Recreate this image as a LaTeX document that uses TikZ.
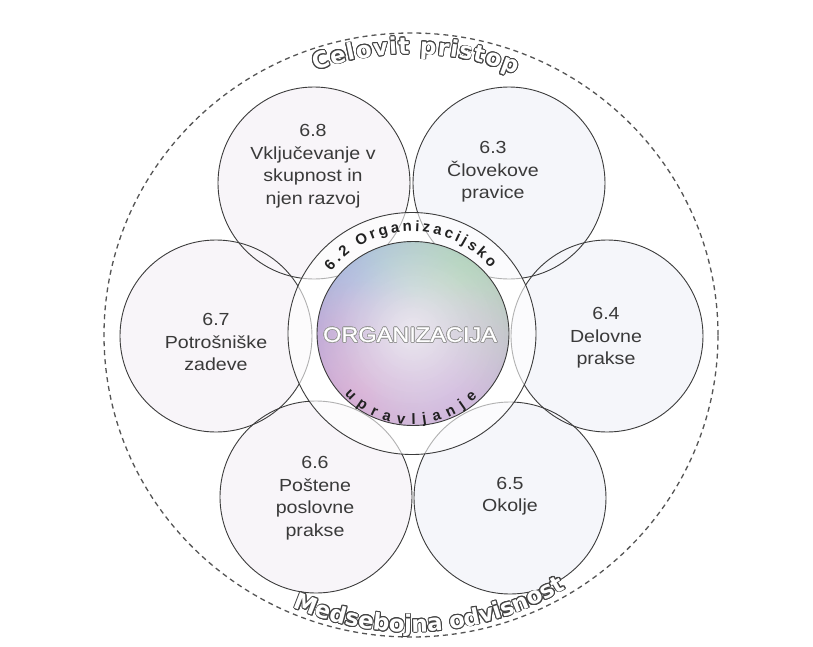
\documentclass[tikz,border=0pt]{standalone}
\usepackage{fontspec}
\usepackage{contour}
\usetikzlibrary{fadings,shapes.geometric}
\tikzfading[name=blobfade, inner color=transparent!0, outer color=transparent!100]
\tikzfading[name=rimfade, inner color=transparent!100, outer color=transparent!0]
\newfontfamily\lblfont{Liberation Sans}[FakeStretch=1.12]
\newfontfamily\orgfont{Liberation Sans}[FakeStretch=1.12, FakeBold=0.6]
\newfontfamily\lsans{Liberation Sans}
\newfontfamily\roundfont{DejaVu Sans}
\definecolor{lbltext}{HTML}{3A3A3A}
\definecolor{ringtext}{HTML}{222222}
\definecolor{outl}{HTML}{444444}
\definecolor{edge}{HTML}{3C3C3C}
\definecolor{dashc}{HTML}{555555}
\definecolor{fillA}{HTML}{F8F5F9}
\definecolor{fillB}{HTML}{F5F6FA}
\definecolor{g0}{HTML}{D2CCE0}
\definecolor{gblue}{HTML}{A4C6EA}
\definecolor{ggreen}{HTML}{B2E0BC}
\definecolor{ggray}{HTML}{C8D6CC}
\definecolor{glav}{HTML}{BCAEE2}
\definecolor{gpink}{HTML}{E2AEDA}
\definecolor{glilac}{HTML}{D8BCE6}
\definecolor{glight}{HTML}{ECE8F0}
\contourlength{0.9pt}
\newcommand\outtxt[1]{\contour{outl}{\textcolor{white}{\roundfont\bfseries\fontsize{23}{24}\selectfont #1}}}
\newcommand\ringtxt[1]{\textcolor{ringtext}{\lsans\bfseries\fontsize{15}{16}\selectfont #1}}
\newlength\awidth
\newlength\cwidth
\newcommand\measurechar[1]{\pgfinterruptpicture\settowidth\cwidth{#1}\global\cwidth=\cwidth\endpgfinterruptpicture}
% #1 baseline radius, #2 centre angle, #3 tracking, #4 direction (1 top, -1 bottom), #5 format command, #6 letters
\newcommand\arcword[6]{%
  \global\awidth=0pt
  \foreach \lt in {#6}{%
    \measurechar{#5{\lt}}%
    \global\advance\awidth by \cwidth
    \global\advance\awidth by #3pt
  }%
  \global\advance\awidth by -#3pt
  \gdef\arcpos{0}%
  \foreach \lt in {#6}{%
    \measurechar{#5{\lt}}%
    \pgfmathsetmacro\ang{#2 + (#4)*(\awidth/2 - \arcpos - \cwidth/2)/(#1)*180/pi}%
    \pgfmathsetmacro\rot{\ang - (#4)*90}%
    \node[rotate=\rot, anchor=base, inner sep=0pt, outer sep=0pt] at (\ang:#1) {#5{\lt}};
    \pgfmathsetmacro\np{\arcpos + \cwidth + #3}%
    \xdef\arcpos{\np}%
  }%
}
\tikzset{
  topic/.style={circle, draw=edge, line width=0.9pt, minimum size=192pt, inner sep=0pt},
  lbl/.style={align=center, text=lbltext, font=\lblfont\fontsize{17.5}{22.5}\selectfont, inner sep=0pt}
}
\begin{document}
\begin{tikzpicture}[x=1pt,y=1pt]
\useasboundingbox (-411,336) rectangle (402,-310);
\fill[white] (-411,336) rectangle (402,-310);
% outer dashed boundary
\node[ellipse, draw=dashc, dashed, dash pattern=on 5pt off 4pt, line width=1.3pt, minimum width=614pt, minimum height=604pt, inner sep=0pt] (outer) at (0,1) {};
% six topic circles: fills first
\fill[fillA] (-97,153) circle (96);
\fill[fillB] (98,153) circle (96);
\fill[fillB] (196,0) circle (96);
\fill[fillA] (-195,0) circle (96);
\fill[fillA] (-95,-161) circle (96);
\fill[fillB] (99,-162) circle (96);
\node[topic] (c68) at (-97,153) {};
\node[topic] (c63) at (98,153) {};
\node[topic] (c64) at (196,0) {};
\node[topic] (c67) at (-195,0) {};
\node[topic] (c66) at (-95,-161) {};
\node[topic] (c65) at (99,-162) {};
% governance ring
\fill[white, opacity=0.6] (1,2.5) ellipse [x radius=124, y radius=121];
\draw[edge, line width=0.9pt] (1,2.5) ellipse [x radius=124, y radius=121];
% organisation core with pastel gradient
\begin{scope}
  \clip (2,2.5) ellipse [x radius=96, y radius=92];
  \fill[g0] (2,2.5) ellipse [x radius=96, y radius=92];
  \fill[gblue, path fading=blobfade] (-40,45) circle (125);
  \fill[ggreen, path fading=blobfade] (50,55) circle (110);
  \fill[ggray, path fading=blobfade] (78,0) circle (90);
  \fill[glav, path fading=blobfade] (-78,0) circle (90);
  \fill[gpink, path fading=blobfade] (-45,-55) circle (110);
  \fill[glilac, path fading=blobfade] (38,-58) circle (110);
  \fill[glight, path fading=blobfade] (0,5) circle (100);
  \fill[black, opacity=0.07, path fading=rimfade] (2,2.5) circle (190);
\end{scope}
\draw[edge, line width=0.9pt] (2,2.5) ellipse [x radius=96, y radius=92];
\node[inner sep=0pt] (org) at (-1,1) {\contourlength{0.7pt}\contour{gray!80}{\textcolor{white}{\orgfont\fontsize{21}{24}\selectfont ORGANIZACIJA}}};
% ring texts
\begin{scope}[shift={(1,2.5)}]
  \arcword{102}{91}{3}{1}{\ringtxt}{6,.,2,~,O,r,g,a,n,i,z,a,c,i,j,s,k,o}
  \arcword{91}{269}{7}{-1}{\ringtxt}{u,p,r,a,v,l,j,a,n,j,e}
\end{scope}
% outer texts
\begin{scope}[shift={(0,1)}]
  \arcword{281}{89}{1}{1}{\outtxt}{C,e,l,o,v,i,t,~,p,r,i,s,t,o,p}
  \arcword{297}{274}{-0.3}{-1}{\outtxt}{M,e,d,s,e,b,o,j,n,a,~,o,d,v,i,s,n,o,s,t}
\end{scope}
% topic labels
\node[lbl] (t68) at (-98,170) {6.8\\Vključevanje v\\skupnost in\\njen razvoj};
\node[lbl] (t63) at (82,164) {6.3\\Človekove\\pravice};
\node[lbl] (t64) at (195,-2) {6.4\\Delovne\\prakse};
\node[lbl] (t67) at (-195,-6) {6.7\\Potrošniške\\zadeve};
\node[lbl] (t66) at (-96,-162) {6.6\\Poštene\\poslovne\\prakse};
\node[lbl] (t65) at (99,-160) {6.5\\Okolje};
\end{tikzpicture}
\end{document}
